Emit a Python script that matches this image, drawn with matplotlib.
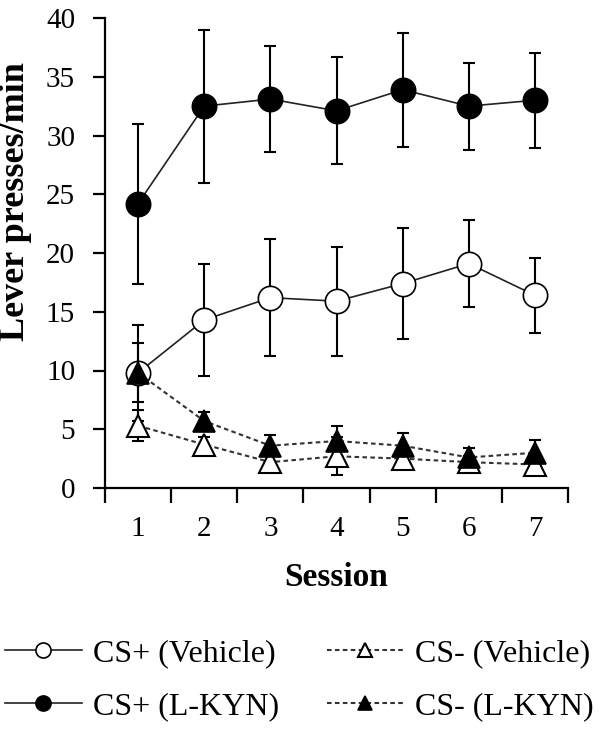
import matplotlib
matplotlib.use("Agg")
import matplotlib.pyplot as plt
from matplotlib.ticker import FixedLocator

plt.rcParams['font.family'] = ['Liberation Serif', 'DejaVu Serif']

sessions = [1, 2, 3, 4, 5, 6, 7]
cs_plus_veh = [9.8, 14.3, 16.2, 15.9, 17.4, 19.1, 16.4]
cs_plus_veh_err = [4.1, 4.8, 5.0, 4.65, 4.75, 3.7, 3.2]
cs_plus_kyn = [24.2, 32.5, 33.1, 32.1, 33.9, 32.5, 33.0]
cs_plus_kyn_err = [6.8, 6.5, 4.5, 4.55, 4.85, 3.7, 4.05]
cs_minus_veh = [5.3, 3.7, 2.2, 2.7, 2.5, 2.2, 2.0]
cs_minus_veh_err = [1.3, 0.6, 0.6, 1.6, 0.6, 0.5, 0.5]
cs_minus_kyn = [9.8, 5.7, 3.6, 4.0, 3.6, 2.6, 3.0]
cs_minus_kyn_err = [2.5, 0.8, 0.9, 1.3, 1.1, 0.8, 1.1]
labels = ['CS+ (Vehicle)', 'CS+ (L-KYN)', 'CS- (Vehicle)', 'CS- (L-KYN)']
yticks = [0, 5, 10, 15, 20, 25, 30, 35, 40]

fig = plt.figure(figsize=(6.08, 7.29), dpi=100)
ax = fig.add_axes([105/608, 1-488/729, (568-105)/608, (488-18)/729])

dash = (0, (2.2, 1.6))
err_kw = dict(fmt='none', ecolor='black', elinewidth=1.5, capsize=4.5, capthick=1.5)

ax.errorbar(sessions, cs_plus_veh, yerr=cs_plus_veh_err, zorder=2, **err_kw)
ax.errorbar(sessions, cs_minus_veh, yerr=cs_minus_veh_err, zorder=2, **err_kw)
ax.errorbar(sessions, cs_plus_kyn, yerr=cs_plus_kyn_err, zorder=2, **err_kw)
ax.errorbar(sessions, cs_minus_kyn, yerr=cs_minus_kyn_err, zorder=2, **err_kw)

h1, = ax.plot(sessions, cs_plus_veh, '-', color='#222222', lw=1.2, marker='o', ms=17.5,
              mfc='white', mec='black', mew=1.2, zorder=3, label=labels[0])
h3, = ax.plot(sessions, cs_minus_veh, linestyle=dash, color='#333333', lw=1.5, marker='^', ms=16,
              mfc='white', mec='black', mew=1.5, zorder=4, label=labels[2])
h2, = ax.plot(sessions, cs_plus_kyn, '-', color='#222222', lw=1.2, marker='o', ms=17.5,
              mfc='black', mec='black', mew=1.2, zorder=5, label=labels[1])
h4, = ax.plot(sessions, cs_minus_kyn, linestyle=dash, color='#333333', lw=1.5, marker='^', ms=16,
              mfc='black', mec='black', mew=1.2, zorder=6, label=labels[3])

ax.set_xlim(0.5, 7.5)
ax.set_ylim(0, 40)
ax.set_yticks(yticks)
ax.set_yticklabels([str(t) for t in yticks])
ax.set_xticks(sessions)
ax.set_xticklabels([str(s) for s in sessions])
ax.xaxis.set_minor_locator(FixedLocator([s - 0.5 for s in sessions] + [sessions[-1] + 0.5]))
ax.tick_params(axis='x', which='major', length=0, pad=20, labelsize=21)
ax.tick_params(axis='x', which='minor', length=11, width=1.6, direction='out')
ax.tick_params(axis='y', which='major', length=9, width=1.6, direction='out', pad=12.5, labelsize=21)

for s in ['top', 'right']:
    ax.spines[s].set_visible(False)
for s in ['left', 'bottom']:
    ax.spines[s].set_linewidth(1.6)

fig.text(336/608, 1-577/729, 'Session', ha='center', va='center', fontsize=24, fontweight='bold')
fig.text(16/608, 1-202/729, 'Lever presses/min', ha='center', va='center', rotation=90,
         fontsize=26, fontweight='bold')

fig.legend(handles=[h1, h2, h3, h4], labels=labels, ncol=2, frameon=False,
           loc='upper left', bbox_to_anchor=(5/608, 1-639/729), fontsize=23,
           handlelength=2.41, handletextpad=0.34, columnspacing=1.5, labelspacing=0.72,
           markerscale=0.62, borderaxespad=0, borderpad=0)

fig.savefig('out.png', dpi=100)
